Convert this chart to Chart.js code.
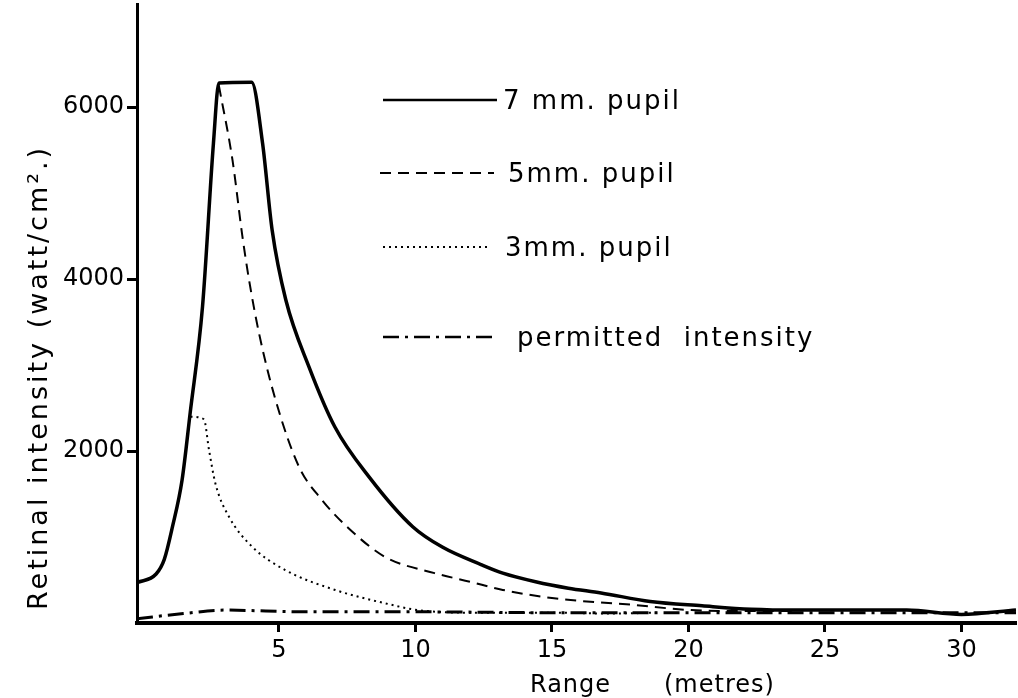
<!DOCTYPE html>
<html>
<head>
<meta charset="utf-8">
<title>Retinal intensity vs range</title>
<script src="https://cdn.jsdelivr.net/npm/chart.js"></script>
<style>
  html, body { margin: 0; padding: 0; background: #fff; }
  #wrap { width: 1018px; height: 698px; position: relative; }
</style>
</head>
<body>
<div id="wrap"><canvas id="retinaChart"></canvas></div>
<script>
'use strict';

// Valores: rango (m) e intensidad retinal (watt/cm²)
const range7 = [-0.2, 0.5, 0.8, 1.1, 1.45, 1.75, 2.2, 2.6, 2.8, 4.0, 4.4, 4.75, 5.25, 6.1, 7.05, 8.3, 9.9, 11, 12.4, 13.2, 14.4, 15.6, 16.8, 18.6, 20.5, 22.3, 24, 26, 28, 30, 32];
const pupil7 = [470, 570, 740, 1120, 1660, 2450, 3680, 5580, 6280, 6290, 5580, 4570, 3760, 2980, 2280, 1700, 1120, 880, 680, 580, 480, 405, 350, 250, 200, 160, 150, 150, 150, 100, 150];

const range5 = [2.8, 3.3, 3.66, 3.9, 4.27, 4.88, 5.73, 6.58, 7.56, 8.88, 10.7, 12, 13.2, 15, 18, 20.1, 22, 24];
const pupil5 = [6250, 5380, 4500, 4000, 3370, 2590, 1820, 1430, 1100, 770, 580, 480, 385, 290, 210, 150, 140, 140];

const range3 = [1.76, 2.25, 2.44, 2.67, 3.17, 4.02, 5.23, 7.06, 8.88, 10.1, 12, 15, 17, 18.9];
const pupil3 = [2400, 2370, 2010, 1625, 1236, 887, 616, 384, 230, 150, 120, 120, 110, 120];

const rangePermitted = [-0.2, 1.5, 3, 6, 10, 15, 20, 25, 32];
const permitted = [50, 110, 150, 130, 130, 120, 120, 120, 120];

const xTicks = [5, 10, 15, 20, 25, 30];
const yTicks = [2000, 4000, 6000];

const toPoints = (xs, ys) => xs.map((x, i) => ({ x, y: ys[i] }));

// Leyenda y títulos de ejes (con espaciado de letras como en el original)
const legendRows = [
  { y: 100, x1: 383, x2: 497, tx: 503 },
  { y: 173, x1: 380, x2: 494, tx: 508 },
  { y: 247, x1: 383, x2: 488, tx: 505 },
  { y: 337, x1: 383, x2: 495, tx: 517 }
];

const decorations = {
  id: 'decorations',
  afterDraw(chart) {
    const ctx = chart.ctx;
    ctx.save();
    ctx.fillStyle = '#000';
    ctx.strokeStyle = '#000';
    ctx.textBaseline = 'alphabetic';
    ctx.textAlign = 'left';

    ctx.font = '26px "DejaVu Sans"';
    ctx.letterSpacing = '2px';
    chart.data.datasets.forEach((ds, i) => {
      const row = legendRows[i];
      ctx.lineWidth = Math.min(ds.borderWidth, 2.5);
      ctx.setLineDash(ds.borderDash || []);
      ctx.beginPath();
      ctx.moveTo(row.x1, row.y);
      ctx.lineTo(row.x2, row.y);
      ctx.stroke();
      ctx.fillText(ds.label, row.tx, row.y + 9);
    });
    ctx.setLineDash([]);

    // eje x
    ctx.font = '24px "DejaVu Sans"';
    ctx.letterSpacing = '1px';
    ctx.fillText('Range', 530, 692);
    ctx.fillText('(metres)', 664, 692);

    // eje y
    ctx.font = '27px "DejaVu Sans"';
    ctx.letterSpacing = '3px';
    ctx.translate(47, 610);
    ctx.rotate(-Math.PI / 2);
    ctx.fillText('Retinal intensity (watt/cm².)', 0, 0);
    ctx.restore();
  }
};

Chart.defaults.font.family = '"DejaVu Sans"';
Chart.defaults.color = '#000';

new Chart(document.getElementById('retinaChart'), {
  type: 'line',
  data: {
    datasets: [{
      label: '7 mm. pupil',
      data: toPoints(range7, pupil7),
      borderColor: '#000',
      borderWidth: 3.5
    },
    {
      label: '5mm. pupil',
      data: toPoints(range5, pupil5),
      borderColor: '#000',
      borderWidth: 2,
      borderDash: [11, 7]
    },
    {
      label: '3mm. pupil',
      data: toPoints(range3, pupil3),
      borderColor: '#000',
      borderWidth: 2,
      borderDash: [2, 4]
    },
    {
      label: 'permitted  intensity',
      data: toPoints(rangePermitted, permitted),
      borderColor: '#000',
      borderWidth: 3,
      borderDash: [16, 6, 3, 6]
    }]
  },
  options: {
    responsive: true,
    maintainAspectRatio: false,
    animation: false,
    layout: { padding: { left: 0, right: 2, top: 4, bottom: 0 } },
    elements: {
      point: { radius: 0, hoverRadius: 0 },
      line: { cubicInterpolationMode: 'monotone', fill: false }
    },
    plugins: {
      legend: { display: false },
      tooltip: { enabled: false }
    },
    scales: {
      x: {
        type: 'linear',
        min: -0.2,
        max: 32,
        afterBuildTicks: (scale) => { scale.ticks = xTicks.map(v => ({ value: v })); },
        afterFit: (scale) => { scale.height = 75; },
        border: { color: '#000', width: 4 },
        grid: { drawOnChartArea: false, tickLength: 9, tickWidth: 3, tickColor: '#000' },
        ticks: { font: { size: 24 }, padding: 4, maxRotation: 0 }
      },
      y: {
        min: 0,
        max: 7200,
        afterBuildTicks: (scale) => { scale.ticks = yTicks.map(v => ({ value: v })); },
        afterFit: (scale) => {
          scale.width = 137;
          scale.paddingTop = 0;
          scale.paddingBottom = 0;
        },
        border: { color: '#000', width: 3 },
        grid: { drawOnChartArea: false, tickLength: 10, tickWidth: 3, tickColor: '#000' },
        ticks: { font: { size: 24 }, padding: 3, callback: (v) => String(v) }
      }
    }
  },
  plugins: [decorations]
});
</script>
</body>
</html>
